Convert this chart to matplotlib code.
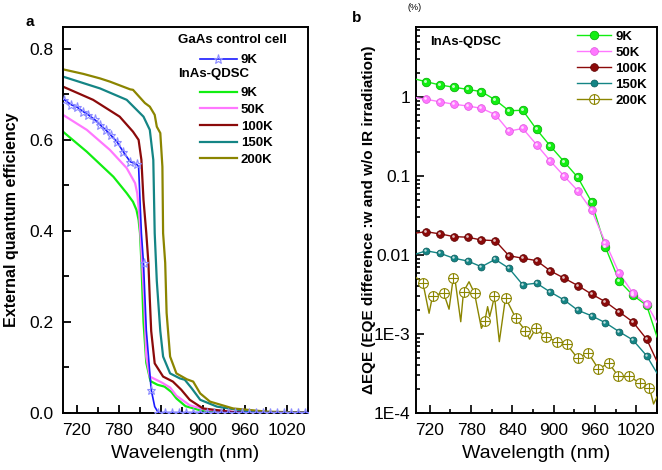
import matplotlib
matplotlib.use("Agg")
import matplotlib.pyplot as plt
from matplotlib.lines import Line2D
from matplotlib.ticker import MultipleLocator, LogLocator, FixedLocator, FixedFormatter, NullFormatter
from matplotlib.transforms import offset_copy

plt.rcParams["font.family"] = ["Liberation Sans", "DejaVu Sans"]

# ---------------- panel a: EQE vs wavelength ----------------
gaas_wl = [702, 712, 720, 729, 736, 745, 753, 761, 768, 777, 786, 796, 805, 808, 810, 812,
           815, 819, 826, 831, 836, 850, 900, 1000, 1050]
gaas_eqe = [0.688, 0.677, 0.672, 0.662, 0.655, 0.645, 0.633, 0.622, 0.611, 0.596, 0.574, 0.552,
            0.547, 0.541, 0.468, 0.395, 0.329, 0.182, 0.051, 0.014, 0.001, 0.001, 0.001, 0.001, 0.001]
gaas_mark_wl = [702, 712, 720, 729, 736, 745, 753, 761, 768, 777, 786, 796, 805, 815, 826,
                836, 846, 856, 866, 876, 886, 896, 906, 916, 926, 936, 946, 956, 966, 976,
                986, 996, 1006, 1016, 1026, 1036, 1046]
gaas_mark_eqe = [0.688, 0.677, 0.672, 0.662, 0.655, 0.645, 0.633, 0.622, 0.611, 0.596, 0.574,
                 0.552, 0.547, 0.329, 0.051] + [0.001] * 22

k9_wl = [700, 734, 772, 791, 800, 805, 808, 810, 812, 815, 819, 825, 835, 845, 855, 862, 875, 896, 950, 1050]
k9_eqe = [0.618, 0.574, 0.519, 0.483, 0.464, 0.446, 0.424, 0.395, 0.33, 0.2, 0.11, 0.07, 0.062,
          0.058, 0.046, 0.032, 0.015, 0.006, 0.001, 0.0]
k50_wl = [700, 734, 767, 791, 803, 806, 809, 812, 816, 819, 824, 841, 853, 862, 881, 905, 960, 1050]
k50_eqe = [0.655, 0.622, 0.578, 0.538, 0.505, 0.483, 0.436, 0.358, 0.248, 0.124, 0.08, 0.067,
           0.056, 0.038, 0.017, 0.007, 0.001, 0.0]
k100_wl = [700, 743, 781, 800, 808, 812, 815, 819, 822, 824, 826, 831, 843, 857, 869, 881, 900, 943, 1050]
k100_eqe = [0.717, 0.688, 0.651, 0.618, 0.600, 0.556, 0.468, 0.395, 0.33, 0.25, 0.18, 0.109,
            0.080, 0.069, 0.051, 0.029, 0.010, 0.002, 0.0]
k150_wl = [700, 753, 791, 815, 824, 829, 831, 834, 839, 843, 853, 867, 874, 884, 896, 920, 967, 1050]
k150_eqe = [0.739, 0.713, 0.688, 0.651, 0.622, 0.556, 0.395, 0.29, 0.18, 0.124, 0.087, 0.076,
            0.073, 0.054, 0.029, 0.014, 0.003, 0.0]
k200_wl = [700, 729, 753, 767, 796, 800, 817, 824, 831, 834, 839, 842, 843, 846, 848, 853, 862,
           877, 886, 896, 910, 943, 991, 1050]
k200_eqe = [0.755, 0.745, 0.735, 0.728, 0.711, 0.710, 0.681, 0.673, 0.655, 0.629, 0.615, 0.541,
            0.395, 0.33, 0.22, 0.124, 0.087, 0.074, 0.069, 0.043, 0.025, 0.010, 0.003, 0.001]

# ---------------- panel b: delta EQE (log) ----------------
b_mark_wl = [715, 735, 755, 775, 795, 815, 835, 855, 875, 895, 915, 935, 955, 975, 995, 1015, 1035]
b_start_wl, b_end_wl = 700, 1050

d9 = [1.56, 1.42, 1.33, 1.25, 1.17, 0.92, 0.67, 0.68, 0.39, 0.24, 0.152, 0.096, 0.047,
      0.0126, 0.0047, 0.0031, 0.0023]
d9_ends = (1.68, 0.00092)
d50 = [0.935, 0.87, 0.81, 0.77, 0.72, 0.60, 0.37, 0.40, 0.25, 0.155, 0.10, 0.065, 0.037,
       0.0144, 0.0059, 0.0033, 0.0024]
d50_ends = (0.98, 0.0014)
d100 = [0.0197, 0.0185, 0.0171, 0.0168, 0.0155, 0.0152, 0.0098, 0.0091, 0.0085, 0.0063,
        0.0051, 0.0041, 0.0032, 0.00256, 0.00191, 0.00142, 0.00086]
d100_ends = (0.019, 0.00045)
d150 = [0.0113, 0.0105, 0.0091, 0.0084, 0.0071, 0.0088, 0.0068, 0.0042, 0.0044, 0.0034,
        0.0027, 0.0020, 0.0017, 0.00139, 0.00107, 0.00084, 0.00053]
d150_ends = (0.0103, 0.00032)

d200_mark_wl = [710, 724, 740, 754, 769, 785, 800, 814, 830, 845, 859, 874, 889, 905, 919,
                935, 950, 965, 980, 994, 1010, 1025, 1039]
d200_mark = [0.00446, 0.00303, 0.00333, 0.00507, 0.00343, 0.00327, 0.00147, 0.00303, 0.00288,
             0.00158, 0.0011, 0.00118, 0.00091, 0.0008, 0.00074, 0.00049, 0.00058, 0.00036,
             0.00043, 0.00029, 0.00029, 0.00024, 0.00021]
d200_line_wl = [700, 710, 719, 724, 740, 748, 754, 756, 765, 769, 777, 785, 795, 800, 804, 807,
                810, 814, 821, 830, 845, 859, 865, 874, 889, 905, 919, 935, 950, 965, 980, 994,
                1010, 1025, 1039, 1045, 1050]
d200_line = [0.0052, 0.00446, 0.00183, 0.00303, 0.00333, 0.00206, 0.00507, 0.0054, 0.00143,
             0.00343, 0.00459, 0.00327, 0.00118, 0.00147, 0.00222, 0.00166, 0.00211, 0.00303,
             0.0008, 0.00288, 0.00158, 0.0011, 0.00086, 0.00118, 0.00091, 0.0008, 0.00074,
             0.00049, 0.00058, 0.00036, 0.00043, 0.00029, 0.00029, 0.00024, 0.00021, 0.00013, 0.00016]

b_ytick_vals = [1e-4, 1e-3, 1e-2, 1e-1, 1]
b_ytick_labels = ["1E-4", "1E-3", "0.01", "0.1", "1"]
x_ticks = [720, 780, 840, 900, 960, 1020]

C_GREEN = "#11ee11"
C_PINK = "#ff77ff"
C_RED = "#8b0a0a"
C_TEAL = "#148585"
C_OLIVE = "#8b8500"
C_BLUE = "#1a1aff"

W, H = 662, 470
fig = plt.figure(figsize=(W / 100, H / 100), dpi=100)
ax_a = fig.add_axes([63 / W, 57 / H, 245 / W, 386 / H])
ax_b = fig.add_axes([416 / W, 57 / H, 241 / W, 386 / H])

# ---- panel a ----
ax_a.plot(gaas_wl, gaas_eqe, color=C_BLUE, lw=1.2, zorder=5)
ax_a.plot(gaas_mark_wl, gaas_mark_eqe, ls="none", marker="*", ms=6.5, mfc="none",
          mec="#8c8cff", mew=0.8, zorder=6)
for wl, v, c in [(k9_wl, k9_eqe, C_GREEN), (k50_wl, k50_eqe, C_PINK),
                 (k100_wl, k100_eqe, C_RED), (k150_wl, k150_eqe, C_TEAL),
                 (k200_wl, k200_eqe, C_OLIVE)]:
    ax_a.plot(wl, v, color=c, lw=1.6)

ax_a.set_xlim(700, 1050)
ax_a.set_ylim(0, 0.848)
ax_a.xaxis.set_major_locator(FixedLocator(x_ticks))
ax_a.xaxis.set_minor_locator(MultipleLocator(30))
ax_a.yaxis.set_major_locator(MultipleLocator(0.2))
ax_a.yaxis.set_minor_locator(MultipleLocator(0.1))
ax_a.yaxis.set_major_formatter(matplotlib.ticker.FormatStrFormatter("%.1f"))
ax_a.tick_params(which="both", direction="in", width=1.3, labelsize=12.5)
ax_a.tick_params(which="major", length=6)
ax_a.tick_params(which="minor", length=4.5)
ax_a.tick_params(axis="x", pad=7)
ax_a.tick_params(axis="y", pad=7)
for s in ax_a.spines.values():
    s.set_linewidth(1.4)
ax_a.set_xlabel("Wavelength (nm)", fontsize=14)
ax_a.xaxis.set_label_coords(0.5, -0.082)
ax_a.xaxis.label.set_va("top")
ax_a.set_ylabel("External quantum efficiency", fontsize=11.5, fontweight="bold")
ax_a.yaxis.set_label_coords(-0.18, 0.5)

leg_a = [Line2D([], [], color=C_BLUE, lw=1.2, marker="*", ms=6.5, mfc="none", mec="#8c8cff", mew=0.8),
         Line2D([], [], color="none"),
         Line2D([], [], color=C_GREEN, lw=1.6),
         Line2D([], [], color=C_PINK, lw=1.6),
         Line2D([], [], color=C_RED, lw=1.6),
         Line2D([], [], color=C_TEAL, lw=1.6),
         Line2D([], [], color=C_OLIVE, lw=1.6)]
ax_a.legend(leg_a, ["9K", "9K", "9K", "50K", "100K", "150K", "200K"], loc="upper left",
            bbox_to_anchor=(0.559, 0.93), frameon=False, borderpad=0, borderaxespad=0,
            handlelength=2.8, handletextpad=0.3, labelspacing=0.33, numpoints=1,
            prop={"weight": "bold", "size": 9.5})
leg = ax_a.get_legend()
leg.get_texts()[1].set_alpha(0)
ax_a.text(0.469, 0.966, "GaAs control cell", transform=ax_a.transAxes, fontsize=9.5,
          fontweight="bold", va="center", ha="left")
ax_a.text(0.469, 0.878, "InAs-QDSC", transform=ax_a.transAxes, fontsize=9.5,
          fontweight="bold", va="center", ha="left")

# ---- panel b ----
hl = offset_copy(ax_b.transData, fig=fig, x=-1.0, y=1.0, units="dots")
series_b = [(d9, d9_ends, C_GREEN, "#00aa00", 6.2, "9K"),
            (d50, d50_ends, C_PINK, "#dd55dd", 5.6, "50K"),
            (d100, d100_ends, C_RED, "#5a0000", 5.6, "100K"),
            (d150, d150_ends, C_TEAL, "#0a5a5a", 5.0, "150K")]
handles_b = []
for vals, ends, c, ec, ms, lab in series_b:
    ax_b.plot([b_start_wl] + b_mark_wl + [b_end_wl], [ends[0]] + vals + [ends[1]],
              color=c, lw=1.0, zorder=3)
    ax_b.plot(b_mark_wl, vals, ls="none", marker="o", ms=ms, mfc=c, mec=ec, mew=0.5, zorder=4)
    ax_b.plot(b_mark_wl, vals, ls="none", marker="o", ms=ms * 0.35, mfc="white", mec="none",
              alpha=0.75, transform=hl, zorder=5)
    handles_b.append(Line2D([], [], color=c, lw=1.0, marker="o", ms=ms, mfc=c, mec=ec, mew=0.5))

ax_b.plot(d200_line_wl, d200_line, color=C_OLIVE, lw=1.0, zorder=3)
ax_b.plot(d200_mark_wl, d200_mark, ls="none", marker="o", ms=7, mfc="white", mec=C_OLIVE,
          mew=0.8, zorder=4)
ax_b.plot(d200_mark_wl, d200_mark, ls="none", marker="+", ms=7, mec=C_OLIVE, mew=0.8, zorder=5)
h200 = (Line2D([], [], color=C_OLIVE, lw=1.0, marker="o", ms=7, mfc="white", mec=C_OLIVE, mew=0.8),
        Line2D([], [], ls="none", marker="+", ms=7, mec=C_OLIVE, mew=0.8))
handles_b.append(h200)

ax_b.set_yscale("log")
ax_b.set_xlim(700, 1050)
ax_b.set_ylim(1e-4, 7.7)
ax_b.xaxis.set_major_locator(FixedLocator(x_ticks))
ax_b.xaxis.set_minor_locator(MultipleLocator(30))
ax_b.yaxis.set_major_locator(FixedLocator(b_ytick_vals))
ax_b.yaxis.set_major_formatter(FixedFormatter(b_ytick_labels))
ax_b.yaxis.set_minor_locator(LogLocator(base=10, subs=range(2, 10)))
ax_b.yaxis.set_minor_formatter(NullFormatter())
ax_b.tick_params(which="both", direction="in", width=1.2, labelsize=12.5)
ax_b.tick_params(which="major", length=6)
ax_b.tick_params(which="minor", length=3)
ax_b.tick_params(axis="x", pad=7)
ax_b.tick_params(axis="y", pad=4)
for s in ax_b.spines.values():
    s.set_linewidth(1.4)
ax_b.set_xlabel("Wavelength (nm)", fontsize=14)
ax_b.xaxis.set_label_coords(0.5, -0.082)
ax_b.xaxis.label.set_va("top")
ax_b.set_ylabel("\u0394EQE (EQE difference :w and w/o IR irradiation)", fontsize=11,
                fontweight="bold")
ax_b.yaxis.set_label_coords(-0.165, 0.5)

ax_b.legend(handles_b, ["9K", "50K", "100K", "150K", "200K"], loc="upper left",
            bbox_to_anchor=(0.668, 0.99), frameon=False, borderpad=0, borderaxespad=0,
            handlelength=2.6, handletextpad=0.3, labelspacing=0.28, numpoints=1,
            prop={"weight": "bold", "size": 9.5})
ax_b.text(0.058, 0.961, "InAs-QDSC", transform=ax_b.transAxes, fontsize=9.5,
          fontweight="bold", va="center", ha="left")

fig.text(30 / W, 1 - 22 / H, "a", fontsize=11, fontweight="bold", va="center", ha="center")
fig.text(357 / W, 1 - 18 / H, "b", fontsize=11, fontweight="bold", va="center", ha="center")
fig.text(415 / W, 1 - 8 / H, "(%)", fontsize=6.5, va="center", ha="center")

fig.savefig("out.png", dpi=100)
